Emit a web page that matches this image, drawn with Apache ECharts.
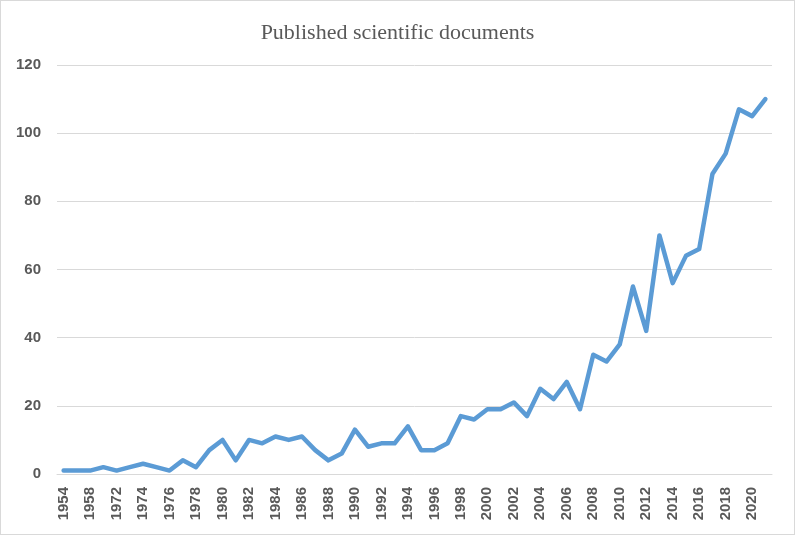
<!DOCTYPE html>
<html>
<head>
<meta charset="utf-8">
<script src="https://cdn.jsdelivr.net/npm/echarts@6/dist/echarts.min.js"></script>
<style>
  html, body { margin: 0; padding: 0; background: #fff; }
  #chart { width: 795px; height: 535px; box-sizing: border-box; border: 1px solid #d9d9d9; }
</style>
</head>
<body>
<div id="chart"></div>
<script>
// years (two hidden labels between 1954 and 1972 are guesses)
var years = ['1954', '1956', '1958', '1970', '1972', '1973', '1974', '1975', '1976', '1977',
  '1978', '1979', '1980', '1981', '1982', '1983', '1984', '1985', '1986', '1987',
  '1988', '1989', '1990', '1991', '1992', '1993', '1994', '1995', '1996', '1997',
  '1998', '1999', '2000', '2001', '2002', '2003', '2004', '2005', '2006', '2007',
  '2008', '2009', '2010', '2011', '2012', '2013', '2014', '2015', '2016', '2017',
  '2018', '2019', '2020', '2021']
var docs = [1, 1, 1, 2, 1, 2, 3, 2, 1, 4,
  2, 7, 10, 4, 10, 9, 11, 10, 11, 7,
  4, 6, 13, 8, 9, 9, 14, 7, 7, 9,
  17, 16, 19, 19, 21, 17, 25, 22, 27, 19,
  35, 33, 38, 55, 42, 70, 56, 64, 66, 88,
  94, 107, 105, 110]
var yTicks = { min: 0, max: 120, step: 20 }

var chart = echarts.init(document.getElementById('chart'))
var option = {
  animation: false,
  title: {
    text: 'Published scientific documents',
    left: 'center',
    top: 16,
    textStyle: {
      fontFamily: 'Liberation Serif',
      fontWeight: 'normal',
      fontSize: 22,
      color: '#595959'
    }
  },
  grid: {
    left: 56,
    right: 22,
    top: 64,
    bottom: 60
  },
  xAxis: {
    type: 'category',
    data: years,
    boundaryGap: true,
    axisTick: { show: false },
    axisLine: { lineStyle: { color: '#d9d9d9', width: 1 } },
    axisLabel: {
      interval: 1,
      rotate: 90,
      margin: 13,
      color: '#595959',
      fontFamily: 'Liberation Sans',
      fontWeight: 'bold',
      fontSize: 15
    }
  },
  yAxis: {
    type: 'value',
    min: yTicks.min,
    max: yTicks.max,
    interval: yTicks.step,
    axisLine: { show: false },
    axisTick: { show: false },
    splitLine: { lineStyle: { color: '#d9d9d9', width: 1 } },
    axisLabel: {
      margin: 16,
      color: '#595959',
      fontFamily: 'Liberation Sans',
      fontWeight: 'bold',
      fontSize: 15
    }
  },
  series: [
    {
      name: 'Documents',
      type: 'line',
      data: docs,
      symbol: 'none',
      lineStyle: { color: '#5b9bd5', width: 4.5, join: 'round', cap: 'round' }
    }
  ]
}
chart.setOption(option)
</script>
</body>
</html>
